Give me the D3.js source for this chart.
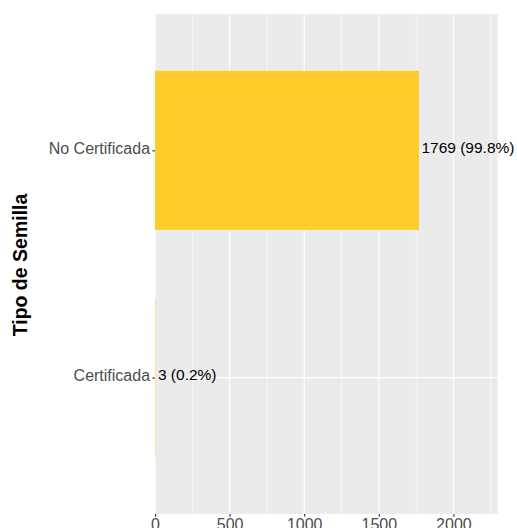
<!DOCTYPE html>
<html><head><meta charset="utf-8">
<script src="https://cdn.jsdelivr.net/npm/d3@7"></script>
<style>body{margin:0;background:#fff}svg{display:block}text{font-family:"Liberation Sans",Arial,sans-serif}</style>
</head><body>
<script>
const categories = ["No Certificada", "Certificada"];
const counts = [1769, 3];
const percents = ["99.8%", "0.2%"];
const xTicks = [0, 500, 1000, 1500, 2000];
const xMax = 2297;

const W = 517, H = 528;
const L = 155, R = 497.7, T = 14, B = 514;
const svg = d3.select("body").append("svg").attr("width", W).attr("height", H);

const x = d3.scaleLinear().domain([0, xMax]).range([L, R]);
const yPos = d3.scalePoint().domain(categories).range([T, B]).padding(0.6);
const step = yPos.step();
const barH = step * 0.7;

svg.append("rect").attr("x", L).attr("y", T).attr("width", R - L).attr("height", B - T).attr("fill", "#EBEBEB");

// minor grid
const minor = d3.range(250, xMax, 500);
svg.selectAll(".minor").data(minor).join("line")
  .attr("x1", d => x(d)).attr("x2", d => x(d)).attr("y1", T).attr("y2", B)
  .attr("stroke", "#fff").attr("stroke-width", 0.55);
svg.selectAll(".major").data(xTicks).join("line")
  .attr("x1", d => x(d)).attr("x2", d => x(d)).attr("y1", T).attr("y2", B)
  .attr("stroke", "#fff").attr("stroke-width", 1.1);
svg.selectAll(".hmajor").data(categories).join("line")
  .attr("x1", L).attr("x2", R).attr("y1", d => yPos(d)).attr("y2", d => yPos(d))
  .attr("stroke", "#fff").attr("stroke-width", 1.1);

// bars
svg.selectAll(".bar").data(categories).join("rect")
  .attr("x", x(0)).attr("y", d => yPos(d) - barH / 2)
  .attr("width", (d, i) => Math.max(x(counts[i]) - x(0), 0))
  .attr("height", barH).attr("fill", "#FFCC29");

// value labels
svg.selectAll(".val").data(categories).join("text")
  .attr("x", (d, i) => x(counts[i]) + 2.5).attr("y", d => yPos(d)).attr("dy", "0.17em")
  .attr("font-size", 15.5).attr("fill", "#000")
  .text((d, i) => `${counts[i]} (${percents[i]})`);

// y axis
const yAxis = d3.axisLeft(yPos).tickSize(2.75).tickPadding(2.2);
const ya = svg.append("g").attr("transform", `translate(${L},0)`).call(yAxis);
ya.select(".domain").remove();
ya.selectAll("line").attr("stroke", "#333").attr("stroke-width", 1.1);
ya.selectAll("text").attr("font-size", 16).attr("fill", "#4D4D4D").attr("dy", "0.17em")
  .attr("font-family", "Liberation Sans, Arial, sans-serif");

// x axis
const xAxis = d3.axisBottom(x).tickValues(xTicks).tickSize(2.75).tickPadding(1.6).tickFormat(d3.format("d"));
const xa = svg.append("g").attr("transform", `translate(0,${B})`).call(xAxis);
xa.select(".domain").remove();
xa.selectAll("line").attr("stroke", "#333").attr("stroke-width", 1.1);
xa.selectAll("text").attr("font-size", 16).attr("fill", "#4D4D4D").attr("font-family", "Liberation Sans, Arial, sans-serif");

// y title
svg.append("text").attr("transform", `translate(27,${(T + B) / 2 + 1}) rotate(-90)`)
  .attr("text-anchor", "middle").attr("font-size", 19.5).attr("font-weight", "bold").attr("fill", "#000")
  .text("Tipo de Semilla");
</script>
</body></html>
